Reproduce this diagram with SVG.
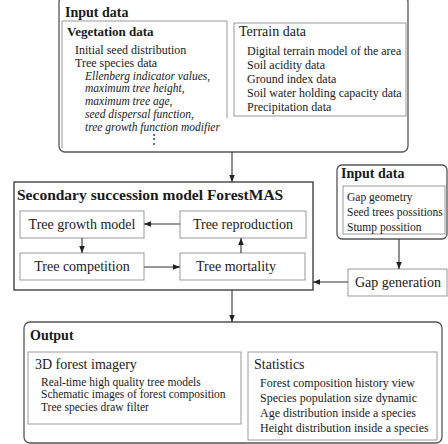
<svg xmlns="http://www.w3.org/2000/svg" width="448" height="444" viewBox="0 0 448 444">
<defs>
<marker id="ah" viewBox="0 0 10 10" refX="10" refY="5" markerWidth="7" markerHeight="7" orient="auto" markerUnits="userSpaceOnUse">
<path d="M0,1 L10,5 L0,9 Z" fill="#222"/>
</marker>
<style>
text{font-family:"Liberation Serif","Times New Roman",serif;fill:#1a1a1a}
.h1{font-size:14px;font-weight:bold}
.h0{font-size:15.5px;font-weight:bold}
.h2{font-size:14px}
.h2b{font-size:13px;font-weight:bold}
.t{font-size:12px}
.ts{font-size:11.5px}
.ti{font-size:11.5px;font-style:italic}
.m{font-size:14px}
.outer{fill:#fff;stroke:#555;stroke-width:1.3}
.inner{fill:none;stroke:#999;stroke-width:1}
.dark{fill:#fff;stroke:#333;stroke-width:1.3}
.conn{fill:none;stroke:#333;stroke-width:1.1;marker-end:url(#ah)}
</style>
</defs>
<rect width="448" height="444" fill="#fff"/>

<g id="input-data-1">
<rect class="outer" x="59" y="-4" width="349" height="156" rx="6"/>
<text class="h1" x="65" y="17">Input data</text>
</g>
<g id="vegetation-data">
<path class="inner" d="M62,148 V21 H227 V118"/>
<text class="h2b" x="67" y="36">Vegetation data</text>
<text class="t" x="75" y="54">Initial seed distribution</text>
<text class="t" x="75" y="67">Tree species data</text>
<text class="ti" x="85" y="80">Ellenberg indicator values,</text>
<text class="ti" x="85" y="92">maximum tree height,</text>
<text class="ti" x="85" y="105">maximum tree age,</text>
<text class="ti" x="85" y="118">seed dispersal function,</text>
<text class="ti" x="85" y="131">tree growth function modifier</text>
<text class="t" x="154" y="143" text-anchor="middle">⋮</text>
</g>
<g id="terrain-data">
<rect class="inner" x="234" y="23" width="172" height="93"/>
<text class="h2" x="239" y="36">Terrain data</text>
<text class="t" x="247" y="55">Digital terrain model of the area</text>
<text class="t" x="247" y="69">Soil acidity data</text>
<text class="t" x="247" y="83">Ground index data</text>
<text class="t" x="247" y="97">Soil water holding capacity data</text>
<text class="t" x="247" y="111">Precipitation data</text>
</g>

<g id="forestmas">
<rect class="dark" x="14" y="182" width="299" height="108"/>
<text class="h0" x="17" y="200">Secondary succession model ForestMAS</text>
</g>
<g id="tree-growth-model">
<rect class="inner" x="20" y="211" width="124" height="27"/>
<text class="m" x="82" y="229" text-anchor="middle">Tree growth model</text>
</g>
<g id="tree-reproduction">
<rect class="inner" x="180" y="211" width="126" height="27"/>
<text class="m" x="243" y="229" text-anchor="middle">Tree reproduction</text>
</g>
<g id="tree-competition">
<rect class="inner" x="20" y="253" width="124" height="27"/>
<text class="m" x="82" y="271" text-anchor="middle">Tree competition</text>
</g>
<g id="tree-mortality">
<rect class="inner" x="180" y="253" width="125" height="27"/>
<text class="m" x="236" y="271" text-anchor="middle">Tree mortality</text>
</g>

<g id="input-data-2">
<rect class="outer" x="337" y="165" width="110" height="74" rx="5"/>
<text class="h1" x="341" y="178">Input data</text>
<rect class="inner" x="343" y="186" width="102" height="48"/>
<text class="ts" x="347" y="201">Gap geometry</text>
<text class="ts" x="347" y="216">Seed trees possitions</text>
<text class="ts" x="347" y="231">Stump possition</text>
</g>
<g id="gap-generation">
<rect class="inner" x="348" y="269" width="99" height="27"/>
<text class="m" x="355" y="287">Gap generation</text>
</g>

<g id="output">
<rect class="outer" x="24" y="322" width="418" height="121" rx="6"/>
<text class="h1" x="30" y="340">Output</text>
</g>
<g id="forest-imagery">
<rect class="inner" x="28" y="352" width="213" height="72"/>
<text class="h2" x="35" y="369">3D forest imagery</text>
<text class="ts" x="41" y="385.5">Real-time high quality tree models</text>
<text class="ts" x="41" y="398.3">Schematic images of forest composition</text>
<text class="ts" x="41" y="411.1">Tree species draw filter</text>
</g>
<g id="statistics">
<rect class="inner" x="248" y="352" width="189" height="88"/>
<text class="h2" x="254" y="369">Statistics</text>
<text class="t" x="260" y="387">Forest composition history view</text>
<text class="t" x="260" y="402">Species population size dynamic</text>
<text class="t" x="260" y="417">Age distribution inside a species</text>
<text class="t" x="260" y="432">Height distribution inside a species</text>
</g>

<g id="connectors">
<path class="conn" d="M232,152 V182"/>
<path class="conn" d="M180,224 H144"/>
<path class="conn" d="M82,238 V253"/>
<path class="conn" d="M144,267 H180"/>
<path class="conn" d="M241,253 V238"/>
<path class="conn" d="M399,239 V269"/>
<path class="conn" d="M348,282 H313"/>
<path class="conn" d="M232,290 V322"/>
</g>
</svg>
